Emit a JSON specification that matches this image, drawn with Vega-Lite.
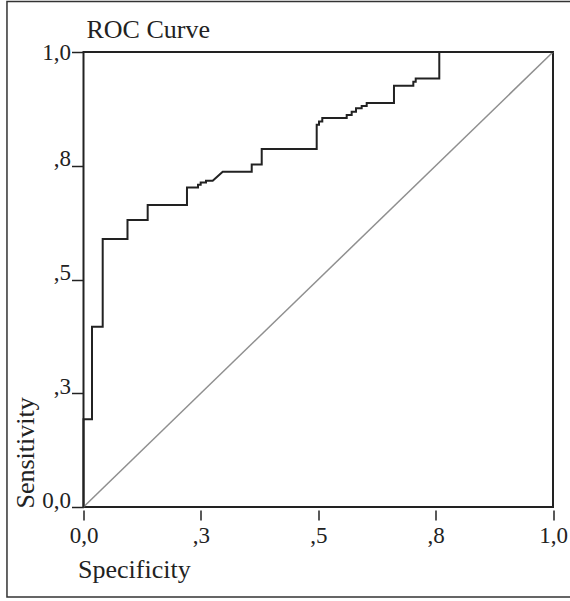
{
  "$schema": "https://vega.github.io/schema/vega-lite/v6.json",
  "width": 469.5,
  "height": 455,
  "autosize": {"type": "none"},
  "padding": {"left": 83.5, "top": 52, "right": 17, "bottom": 94},
  "background": "white",
  "config": {"view": {"stroke": "#222222", "strokeWidth": 2}, "font": "Liberation Serif"},
  "datasets": {
    "roc": [
      {"fpr": 0, "tpr": 0},
      {"fpr": 0, "tpr": 0.193},
      {"fpr": 0.0181, "tpr": 0.193},
      {"fpr": 0.0181, "tpr": 0.396},
      {"fpr": 0.0409, "tpr": 0.396},
      {"fpr": 0.0409, "tpr": 0.589},
      {"fpr": 0.0937, "tpr": 0.589},
      {"fpr": 0.0937, "tpr": 0.631},
      {"fpr": 0.1367, "tpr": 0.631},
      {"fpr": 0.1367, "tpr": 0.664},
      {"fpr": 0.2204, "tpr": 0.664},
      {"fpr": 0.2204, "tpr": 0.702},
      {"fpr": 0.2439, "tpr": 0.702},
      {"fpr": 0.2439, "tpr": 0.708},
      {"fpr": 0.2496, "tpr": 0.708},
      {"fpr": 0.2496, "tpr": 0.713},
      {"fpr": 0.2609, "tpr": 0.713},
      {"fpr": 0.2609, "tpr": 0.717},
      {"fpr": 0.2752, "tpr": 0.717},
      {"fpr": 0.2965, "tpr": 0.737},
      {"fpr": 0.3583, "tpr": 0.737},
      {"fpr": 0.3583, "tpr": 0.753},
      {"fpr": 0.3796, "tpr": 0.753},
      {"fpr": 0.3796, "tpr": 0.787},
      {"fpr": 0.4967, "tpr": 0.787},
      {"fpr": 0.4967, "tpr": 0.840},
      {"fpr": 0.5016, "tpr": 0.840},
      {"fpr": 0.5016, "tpr": 0.847},
      {"fpr": 0.5086, "tpr": 0.847},
      {"fpr": 0.5086, "tpr": 0.855},
      {"fpr": 0.5606, "tpr": 0.855},
      {"fpr": 0.5606, "tpr": 0.8615},
      {"fpr": 0.5712, "tpr": 0.8615},
      {"fpr": 0.5712, "tpr": 0.8688},
      {"fpr": 0.5804, "tpr": 0.8688},
      {"fpr": 0.5804, "tpr": 0.8763},
      {"fpr": 0.5925, "tpr": 0.8763},
      {"fpr": 0.5925, "tpr": 0.8813},
      {"fpr": 0.6032, "tpr": 0.8813},
      {"fpr": 0.6032, "tpr": 0.888},
      {"fpr": 0.6613, "tpr": 0.888},
      {"fpr": 0.6613, "tpr": 0.926},
      {"fpr": 0.7025, "tpr": 0.926},
      {"fpr": 0.7025, "tpr": 0.9347},
      {"fpr": 0.7076, "tpr": 0.9347},
      {"fpr": 0.7076, "tpr": 0.942},
      {"fpr": 0.7578, "tpr": 0.942},
      {"fpr": 0.7578, "tpr": 1},
      {"fpr": 1, "tpr": 1}
    ],
    "ref": [
      {"fpr": 0, "tpr": 0},
      {"fpr": 1, "tpr": 1}
    ]
  },
  "resolve": {"axis": {"x": "independent"}},
  "layer": [
    {
      "data": {"values": [{}]},
      "mark": {"type": "rect", "filled": false, "stroke": "#333333", "strokeWidth": 1.5},
      "encoding": {
        "x": {"datum": -0.163, "type": "quantitative", "scale": {"domain": [0, 1], "nice": false, "zero": false}, "axis": null},
        "x2": {"datum": 1.05},
        "y": {"datum": 1.111, "type": "quantitative", "scale": {"domain": [0, 1], "nice": false, "zero": false}},
        "y2": {"datum": -0.198}
      }
    },
    {
      "data": {"name": "ref"},
      "mark": {"type": "line", "color": "#8f8f8f", "strokeWidth": 1.5},
      "encoding": {
        "x": {
          "field": "fpr", "type": "quantitative",
          "axis": {
            "orient": "top", "domain": false, "ticks": false, "labels": false, "grid": false,
            "title": "ROC Curve", "titleFontSize": 26, "titleFontWeight": "normal", "titleFont": "Liberation Serif",
            "titleAnchor": "start", "titleAlign": "left", "titleX": 2.5, "titleY": -15, "titleBaseline": "alphabetic", "titleColor": "#222222"
          }
        },
        "y": {"field": "tpr", "type": "quantitative"},
        "order": {"value": null}
      }
    },
    {
      "data": {"name": "roc"},
      "mark": {"type": "line", "color": "#222222", "strokeWidth": 2},
      "encoding": {
        "x": {
          "field": "fpr", "type": "quantitative",
          "scale": {"domain": [0, 1], "nice": false, "zero": false},
          "axis": {
            "orient": "bottom",
            "values": [0, 0.25, 0.5, 0.75, 1],
            "labelExpr": "datum.value == 0 ? '0,0' : datum.value == 1 ? '1,0' : datum.value == 0.25 ? ',3' : datum.value == 0.5 ? ',5' : ',8'",
            "domain": false, "offset": 3, "grid": false,
            "tickSize": 10, "tickColor": "#222222", "tickWidth": 1.5,
            "labelPadding": 4, "labelFontSize": 23, "labelColor": "#222222", "labelFont": "Liberation Serif",
            "labelFlush": false, "labelOverlap": false,
            "title": "Specificity", "titleFontSize": 26, "titleFontWeight": "normal", "titleFont": "Liberation Serif",
            "titleAnchor": "start", "titleAlign": "left", "titleX": -6, "titleY": 67, "titleBaseline": "alphabetic", "titleColor": "#222222"
          }
        },
        "y": {
          "field": "tpr", "type": "quantitative",
          "scale": {"domain": [0, 1], "nice": false, "zero": false},
          "axis": {
            "values": [0, 0.25, 0.5, 0.75, 1],
            "labelExpr": "datum.value == 0 ? '0,0' : datum.value == 1 ? '1,0' : datum.value == 0.25 ? ',3' : datum.value == 0.5 ? ',5' : ',8'",
            "domain": false, "grid": false,
            "tickSize": 12, "tickColor": "#222222", "tickWidth": 1.5,
            "labelPadding": 1, "labelFontSize": 23, "labelColor": "#222222", "labelFont": "Liberation Serif",
            "labelBaseline": {"condition": {"test": "datum.value == 1", "value": "middle"}, "value": "alphabetic"},
            "labelFlush": false, "labelOverlap": false,
            "title": "Sensitivity", "titleFontSize": 26, "titleFontWeight": "normal", "titleFont": "Liberation Serif",
            "titleAngle": -90, "titleAlign": "left", "titleX": -50, "titleY": 456, "titleBaseline": "alphabetic", "titleColor": "#222222"
          }
        },
        "order": {"value": null}
      }
    }
  ]
}
